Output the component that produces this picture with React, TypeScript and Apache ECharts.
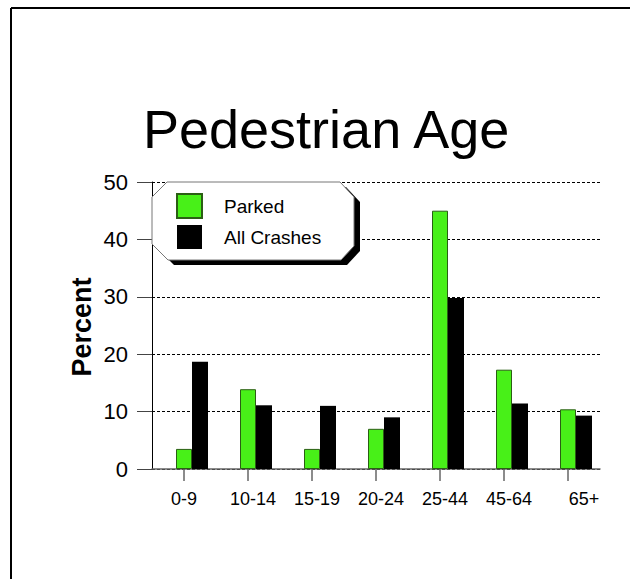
import React, { useEffect, useRef } from "react";
import * as echarts from "echarts";

const categories = ["0-9", "10-14", "15-19", "20-24", "25-44", "45-64", "65+"];
const parked = [3.5, 13.9, 3.5, 7.0, 45.0, 17.3, 10.4];
const allCrashes = [18.7, 11.1, 11.0, 9.0, 29.8, 11.4, 9.3];
const yTicks = { min: 0, max: 50, interval: 10 };
const titleText = "Pedestrian Age";
const yName = "Percent";

const FONT = "'Liberation Sans', Arial, Helvetica, sans-serif";

export default function App() {
  const ref = useRef<HTMLDivElement>(null);
  useEffect(() => {
    document.body.style.margin = "0";
    const chart = echarts.init(ref.current!, null, { renderer: "svg" });
    const labelStyle = (i: number) => (i === 0 ? "a" : i === categories.length - 1 ? "c" : "b");
    const box = [
      [167, 182], [340, 182], [354, 197], [354, 246],
      [341, 260], [168, 260], [152, 244], [152, 197],
    ];
    const shadow = box.map(([x, y]) => [x + 6, y + 5]);
    chart.setOption({
      animation: false,
      backgroundColor: "#ffffff",
      title: {
        text: titleText,
        left: 138,
        top: 97,
        textStyle: { fontFamily: FONT, fontSize: 54, fontWeight: "normal", color: "#000" },
      },
      grid: { left: 152, top: 182, width: 448, height: 287, containLabel: false },
      legend: {
        data: ["Parked", "All Crashes"],
        orient: "vertical",
        left: 176,
        top: 193,
        padding: 0,
        itemWidth: 25,
        itemHeight: 24,
        itemGap: 6,
        icon: "rect",
        z: 6,
        selectedMode: false,
        textStyle: { fontFamily: FONT, fontSize: 19, color: "#000", padding: [0, 0, 0, 17] },
      },
      graphic: [
        { type: "line", shape: { x1: 11, y1: 8, x2: 630, y2: 8 }, style: { stroke: "#000", lineWidth: 2 } },
        { type: "line", shape: { x1: 11, y1: 8, x2: 11, y2: 579 }, style: { stroke: "#000", lineWidth: 2 } },
        { type: "polygon", z: 3, shape: { points: shadow }, style: { fill: "#000" } },
        { type: "polygon", z: 4, shape: { points: box }, style: { fill: "#fff", stroke: "#777", lineWidth: 1 } },
        {
          type: "text",
          z: 5,
          x: 82,
          y: 327,
          rotation: Math.PI / 2,
          style: {
            text: yName,
            fontFamily: FONT,
            fontSize: 27,
            fontWeight: "bold",
            fill: "#000",
            align: "center",
            verticalAlign: "middle",
          },
        },
      ],
      xAxis: {
        type: "category",
        data: categories,
        boundaryGap: true,
        axisLine: { show: true, lineStyle: { color: "#666", width: 1.5 } },
        axisTick: { show: true, alignWithLabel: true, length: 12, lineStyle: { color: "#666", width: 1.5 } },
        axisLabel: {
          margin: 21,
          interval: 0,
          formatter: (v: string, i: number) => `{${labelStyle(i)}|${v}}`,
          rich: {
            a: { fontFamily: FONT, fontSize: 18, color: "#000", padding: [0, 0, 0, 0] },
            b: { fontFamily: FONT, fontSize: 18, color: "#000", padding: [0, 0, 0, 10] },
            c: { fontFamily: FONT, fontSize: 18, color: "#000", padding: [0, 0, 0, 32] },
          },
        },
        splitLine: { show: false },
      },
      yAxis: {
        type: "value",
        min: yTicks.min,
        max: yTicks.max,
        interval: yTicks.interval,
        axisLine: { show: true, lineStyle: { color: "#000", width: 1 } },
        axisTick: { show: true, length: 15, lineStyle: { color: "#444", width: 1 } },
        axisLabel: { fontFamily: FONT, fontSize: 22, color: "#000", margin: 24 },
        splitLine: { show: true, lineStyle: { color: "#000", type: [3, 2], width: 1 } },
      },
      series: [
        {
          name: "spacer",
          type: "bar",
          data: categories.map(() => null),
          barWidth: 16,
          barGap: "0%",
          silent: true,
          itemStyle: { color: "transparent" },
        },
        {
          name: "Parked",
          type: "bar",
          data: parked,
          barWidth: 16,
          barGap: "0%",
          itemStyle: { color: "#48f018", borderColor: "#2b5e14", borderWidth: 1 },
        },
        {
          name: "All Crashes",
          type: "bar",
          data: allCrashes,
          barWidth: 16,
          barGap: "0%",
          itemStyle: { color: "#000000" },
        },
      ],
    });
    return () => chart.dispose();
  }, []);
  return <div ref={ref} style={{ width: 630, height: 579 }} />;
}
